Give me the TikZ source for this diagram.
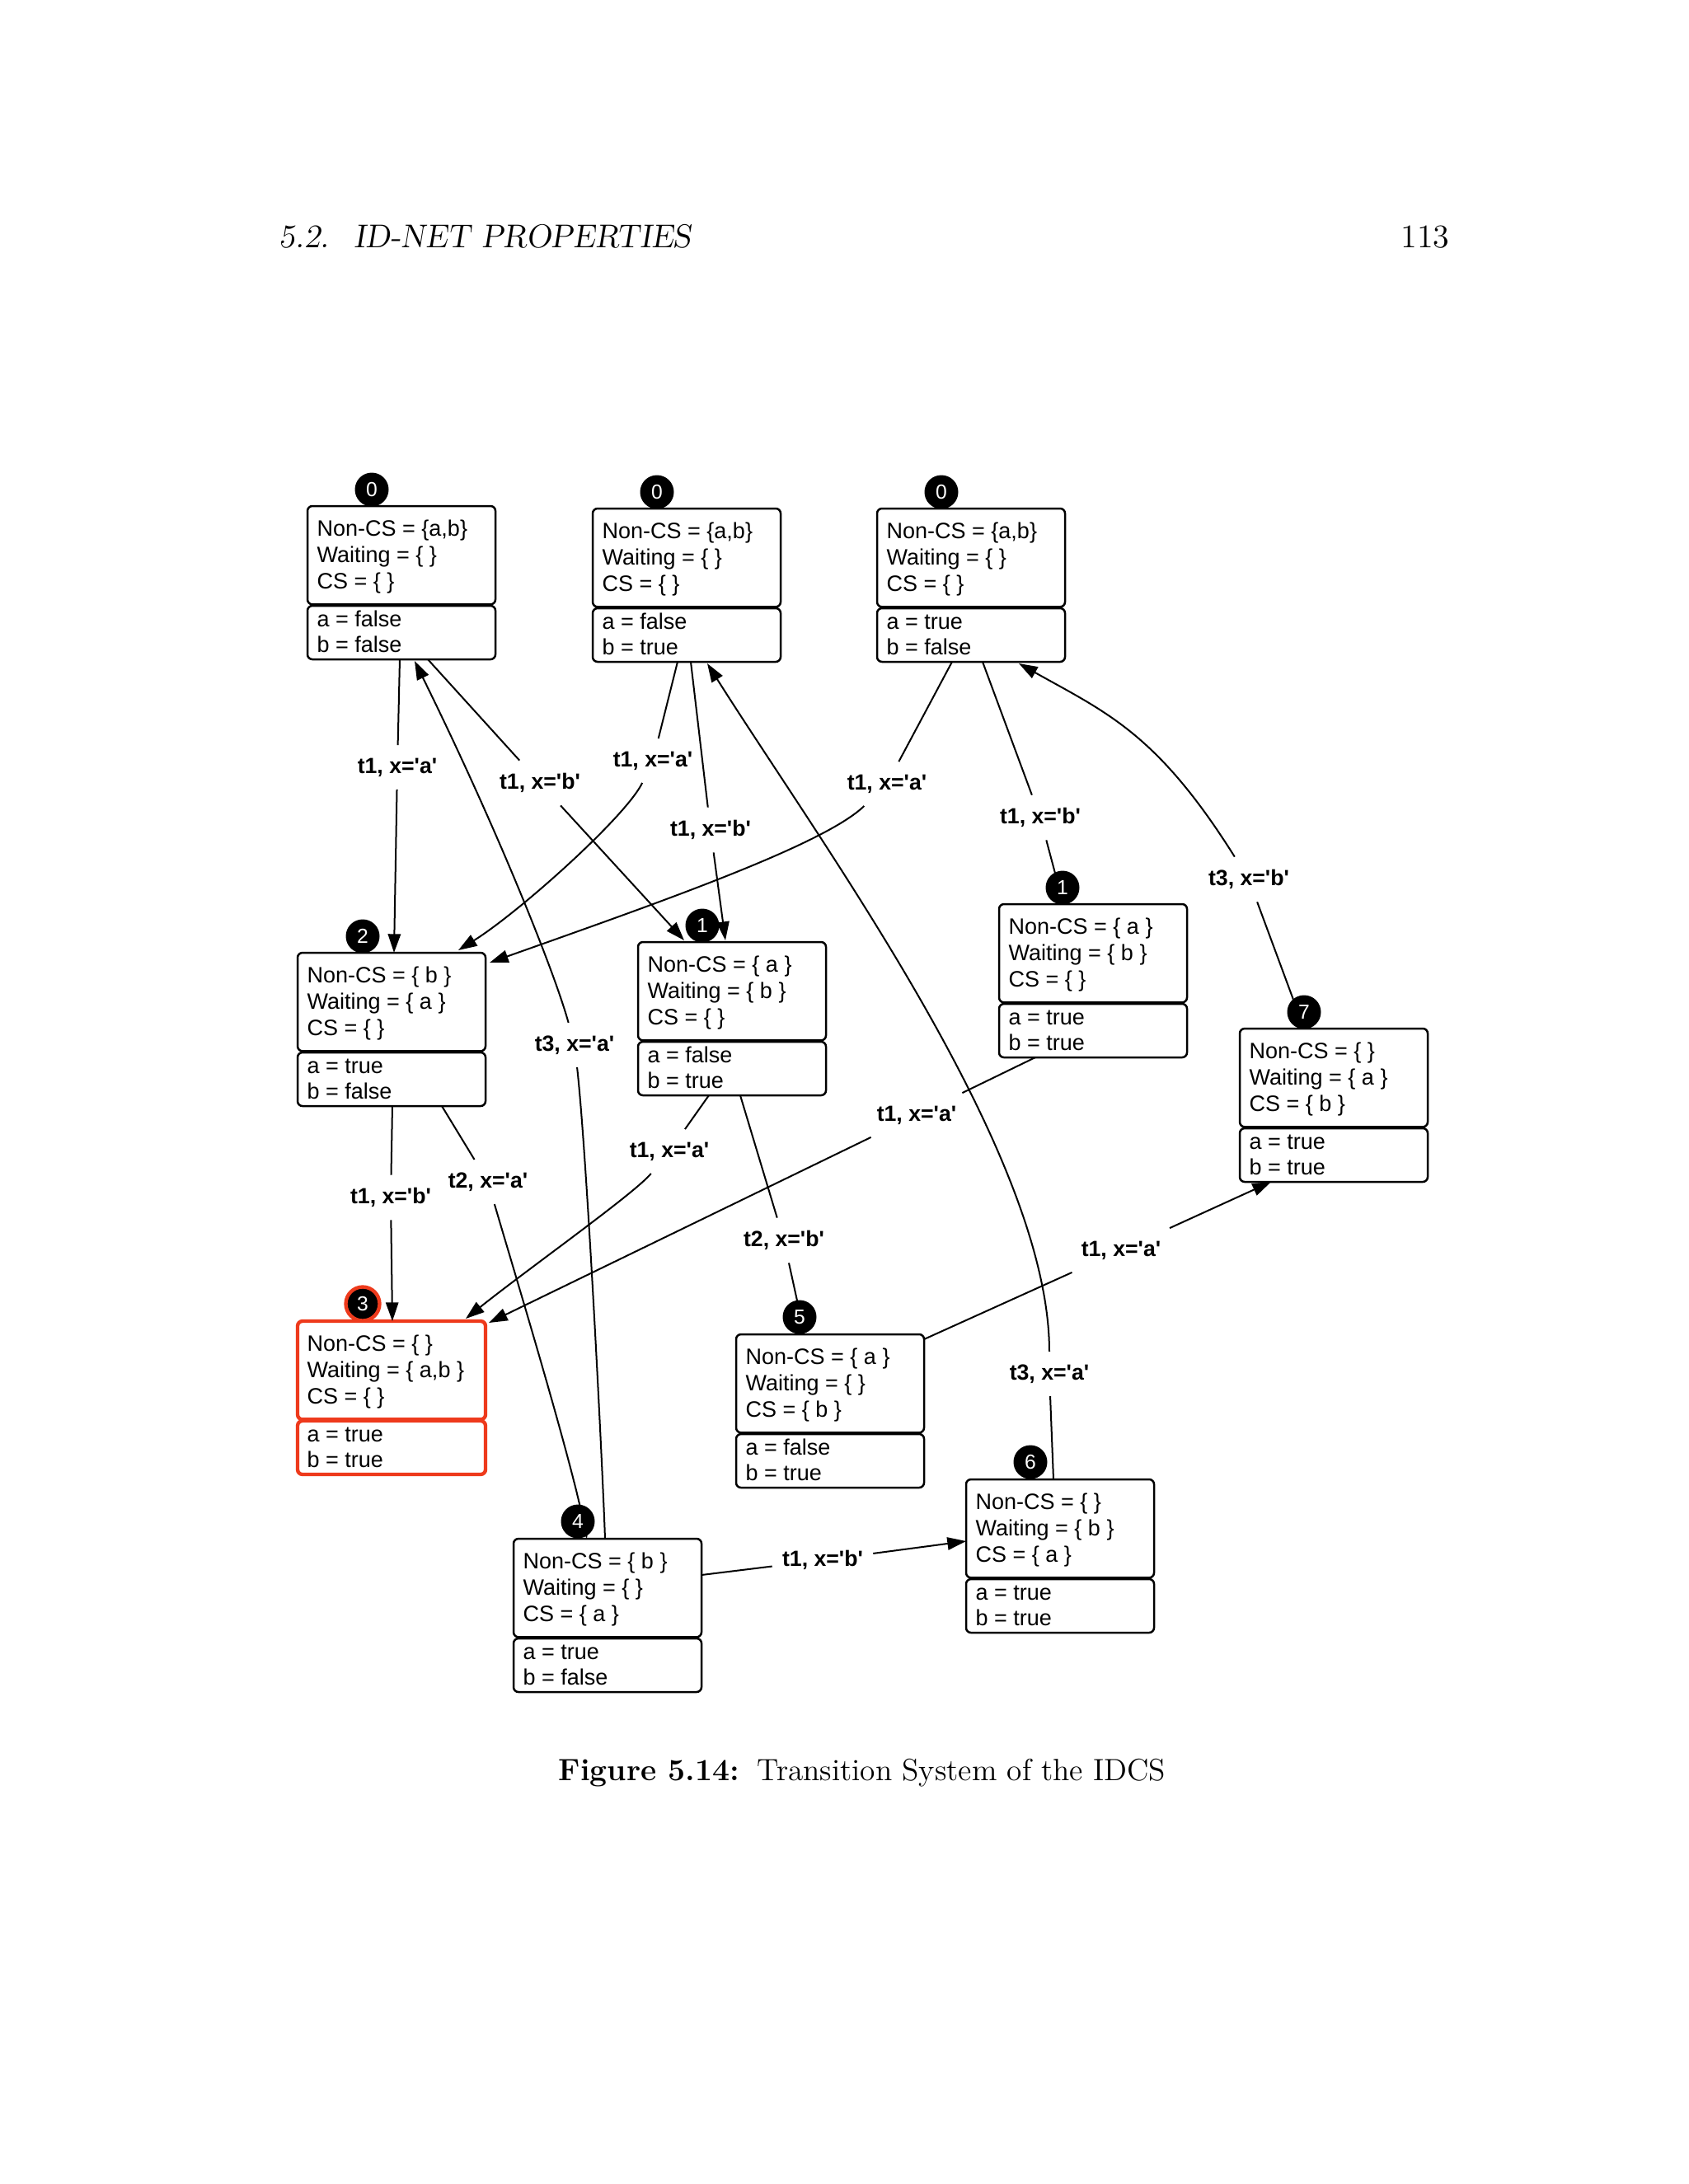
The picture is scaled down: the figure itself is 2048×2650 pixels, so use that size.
\documentclass[tikz,border=0pt]{standalone}
\usepackage{fontspec}
\newfontfamily\boxfont{Liberation Sans}
\usetikzlibrary{calc,arrows.meta}
\definecolor{hired}{HTML}{EE3A1C}
\newcommand\tq{\textquotesingle}
% #1 name, #2 position (top-left), #3 extra style, #4 Non-CS, #5 Waiting, #6 CS, #7 a, #8 b
\newcommand\stbox[8]{%
  \node[upbox,#3] (#1) at (#2) {};
  \node[lowbox,#3] (#1-v) at ($(#2)+(0,121)$) {};
  \node[stxt] (#1-t1) at ($(#2)+(11,36)$) {Non-CS = #4};
  \node[stxt] (#1-t2) at ($(#2)+(11,68)$) {Waiting = #5};
  \node[stxt] (#1-t3) at ($(#2)+(11,100)$) {CS = #6};
  \node[stxt] (#1-t4) at ($(#2)+(11,146)$) {a = #7};
  \node[stxt] (#1-t5) at ($(#2)+(11,177)$) {b = #8};
}
\begin{document}
\begin{tikzpicture}[x=0.10542mm, y=-0.10542mm,
  upbox/.style={draw, line width=0.75pt, rounded corners=1.8pt, minimum width=68.4pt, minimum height=35.8pt, anchor=north west, inner sep=0pt, outer sep=0pt},
  lowbox/.style={upbox, minimum height=19.5pt},
  redbox/.style={draw=hired, line width=1.3pt},
  stxt/.style={anchor=base west, inner sep=0pt, font=\boxfont\fontsize{8.1}{9.5}\selectfont},
  numc/.style={circle, fill=black, text=white, inner sep=0pt, minimum size=12.3pt, font=\boxfont\fontsize{7.4}{7.4}\selectfont},
  tlabel/.style={inner xsep=3.5pt, inner ysep=4.5pt, font=\boxfont\bfseries\fontsize{8}{8}\selectfont},
  conn/.style={line width=0.6pt},
  arr/.style={conn, -{Triangle[length=6.8pt,width=4.6pt]}}]
\fill[white] (0,0) rectangle (2048,2650);
\useasboundingbox (0,0) rectangle (2048,2650);

% page header and caption
\node[anchor=base west, inner sep=0pt, font=\fontsize{12}{14}\selectfont\slshape] (hdr) at (338,300) {5.2.\hspace{9pt}ID-NET PROPERTIES};
\node[anchor=base east, inner sep=0pt, font=\fontsize{12}{14}\selectfont] (pg) at (1759,300) {113};
\node[anchor=base, inner sep=0pt, font=\fontsize{11.2}{13}\selectfont] (cap) at (1046,2160) {\textbf{Figure 5.14:}\hspace{6.5pt}Transition System of the IDCS};

% states
\stbox{s0a}{373,614}{}{\{a,b\}}{\{ \}}{\{ \}}{false}{false}
\stbox{s0b}{719,617}{}{\{a,b\}}{\{ \}}{\{ \}}{false}{true}
\stbox{s0c}{1064,617}{}{\{a,b\}}{\{ \}}{\{ \}}{true}{false}
\stbox{s2}{361,1156}{}{\{ b \}}{\{ a \}}{\{ \}}{true}{false}
\stbox{s1}{774,1143}{}{\{ a \}}{\{ b \}}{\{ \}}{false}{true}
\stbox{s1p}{1212,1097}{}{\{ a \}}{\{ b \}}{\{ \}}{true}{true}
\stbox{s7}{1504,1248}{}{\{ \}}{\{ a \}}{\{ b \}}{true}{true}
\stbox{s3}{361,1603}{redbox}{\{ \}}{\{ a,b \}}{\{ \}}{true}{true}
\stbox{s4}{623,1867}{}{\{ b \}}{\{ \}}{\{ a \}}{true}{false}
\stbox{s5}{893,1619}{}{\{ a \}}{\{ \}}{\{ b \}}{false}{true}
\stbox{s6}{1172,1795}{}{\{ \}}{\{ b \}}{\{ a \}}{true}{true}

% transition labels
\node[tlabel] (L1) at (482,931) {t1, x=\tq a\tq};
\node[tlabel] (L2) at (655,950) {t1, x=\tq b\tq};
\node[tlabel] (L3) at (792,923) {t1, x=\tq a\tq};
\node[tlabel] (L4) at (862,1007) {t1, x=\tq b\tq};
\node[tlabel] (L5) at (1076,951) {t1, x=\tq a\tq};
\node[tlabel] (L6) at (1262,992) {t1, x=\tq b\tq};
\node[tlabel] (L7) at (1515,1067) {t3, x=\tq b\tq};
\node[tlabel] (L8) at (697,1268) {t3, x=\tq a\tq};
\node[tlabel] (L9) at (1112,1353) {t1, x=\tq a\tq};
\node[tlabel] (L10) at (812,1397) {t1, x=\tq a\tq};
\node[tlabel] (L11) at (474,1453) {t1, x=\tq b\tq};
\node[tlabel] (L12) at (592,1434) {t2, x=\tq a\tq};
\node[tlabel] (L13) at (951,1505) {t2, x=\tq b\tq};
\node[tlabel] (L14) at (1360,1517) {t1, x=\tq a\tq};
\node[tlabel] (L15) at (1273,1667) {t3, x=\tq a\tq};
\node[tlabel] (L16) at (998,1893) {t1, x=\tq b\tq};

% connectors
% 0a -> 2
\draw[conn] ($(s0a-v.south west)+(112,0)$) -- (L1);
\draw[arr] (L1) -- ($(s2.north west)+(117,0)$);
% 0a -> 1
\draw[conn] ($(s0a-v.south west)+(146,0)$) -- (L2);
\draw[arr] (L2) -- ($(s1.north west)+(56,-2)$);
% 4 -> 0a
\draw[conn] ($(s4.north west)+(111,0)$) .. controls (731,1780) and (712,1400) .. (L8);
\draw[arr] (L8) .. controls (673,1180) and (603,1005) .. ($(s0a-v.south west)+(130,2)$);
% 0b -> 2
\draw[conn] ($(s0b-v.south west)+(103,0)$) -- (L3);
\draw[arr] (L3) .. controls (760,990) and (631,1106) .. ($(s2.north west)+(195,-3)$);
% 0b -> 1
\draw[conn] ($(s0b-v.south west)+(119,0)$) -- (L4);
\draw[arr] (L4) -- ($(s1.north west)+(106,-2)$);
% 6 -> 0b
\draw[conn] ($(s6.north west)+(106,0)$) -- (L15);
\draw[arr] (L15) .. controls (1273,1400) and (1000,1030) .. ($(s0b-v.south west)+(139,2)$);
% 0c -> 2
\draw[conn] ($(s0c-v.south west)+(91,0)$) -- (L5);
\draw[arr] (L5) .. controls (1000,1025) and (800,1095) .. ($(s2.north east)+(5,12)$);
% 0c -> 1'
\draw[conn] ($(s0c-v.south west)+(128,0)$) -- (L6);
\draw[arr] (L6) -- ($(s1p.north west)+(78,0)$);
% 7 -> 0c
\draw[conn] ($(s7.north west)+(78,0)$) -- (L7);
\draw[arr] (L7) .. controls (1404,890) and (1343,865) .. ($(s0c-v.south west)+(172,2)$);
% 1' -> 3
\draw[conn] ($(s1p-v.south west)+(44,0)$) -- (L9);
\draw[arr] (L9) -- ($(s3.north east)+(4,2)$);
% 1 -> 3
\draw[conn] ($(s1-v.south west)+(86,0)$) -- (L10);
\draw[arr] (L10) .. controls (770,1448) and (640,1540) .. ($(s3.north west)+(204,-3)$);
% 2 -> 3
\draw[conn] ($(s2-v.south west)+(115,0)$) -- (L11);
\draw[arr] (L11) -- ($(s3.north west)+(115,0)$);
% 2 -> 4
\draw[conn] ($(s2-v.south west)+(175,0)$) -- (L12);
\draw[arr] (L12) .. controls (620,1530) and (690,1760) .. ($(s4.north west)+(89,0)$);
% 1 -> 5
\draw[conn] ($(s1-v.south west)+(124,0)$) -- (L13);
\draw[arr] (L13) -- ($(s5.north west)+(83,0)$);
% 5 -> 7
\draw[conn] ($(s5.north east)+(0,6)$) -- (L14);
\draw[arr] (L14) -- ($(s7-v.south west)+(38,0)$);
% 4 -> 6
\draw[conn] ($(s4.north east)+(0,44)$) -- (L16);
\draw[arr] (L16) -- ($(s6.north west)+(0,75)$);

% state numbers
\node[numc] (s0a-n) at ($(s0a.north west)+(78,-20)$) {0};
\node[numc] (s0b-n) at ($(s0b.north west)+(78,-20)$) {0};
\node[numc] (s0c-n) at ($(s0c.north west)+(78,-20)$) {0};
\node[numc] (s2-n) at ($(s2.north west)+(79,-20)$) {2};
\node[numc] (s1-n) at ($(s1.north west)+(78,-20)$) {1};
\node[numc] (s1p-n) at ($(s1p.north west)+(77,-20)$) {1};
\node[numc] (s7-n) at ($(s7.north west)+(78,-20)$) {7};
\node[numc, draw=hired, line width=1.3pt] (s3-n) at ($(s3.north west)+(79,-21)$) {3};
\node[numc] (s4-n) at ($(s4.north west)+(78,-21)$) {4};
\node[numc] (s5-n) at ($(s5.north west)+(77,-21)$) {5};
\node[numc] (s6-n) at ($(s6.north west)+(78,-21)$) {6};
\end{tikzpicture}
\end{document}
